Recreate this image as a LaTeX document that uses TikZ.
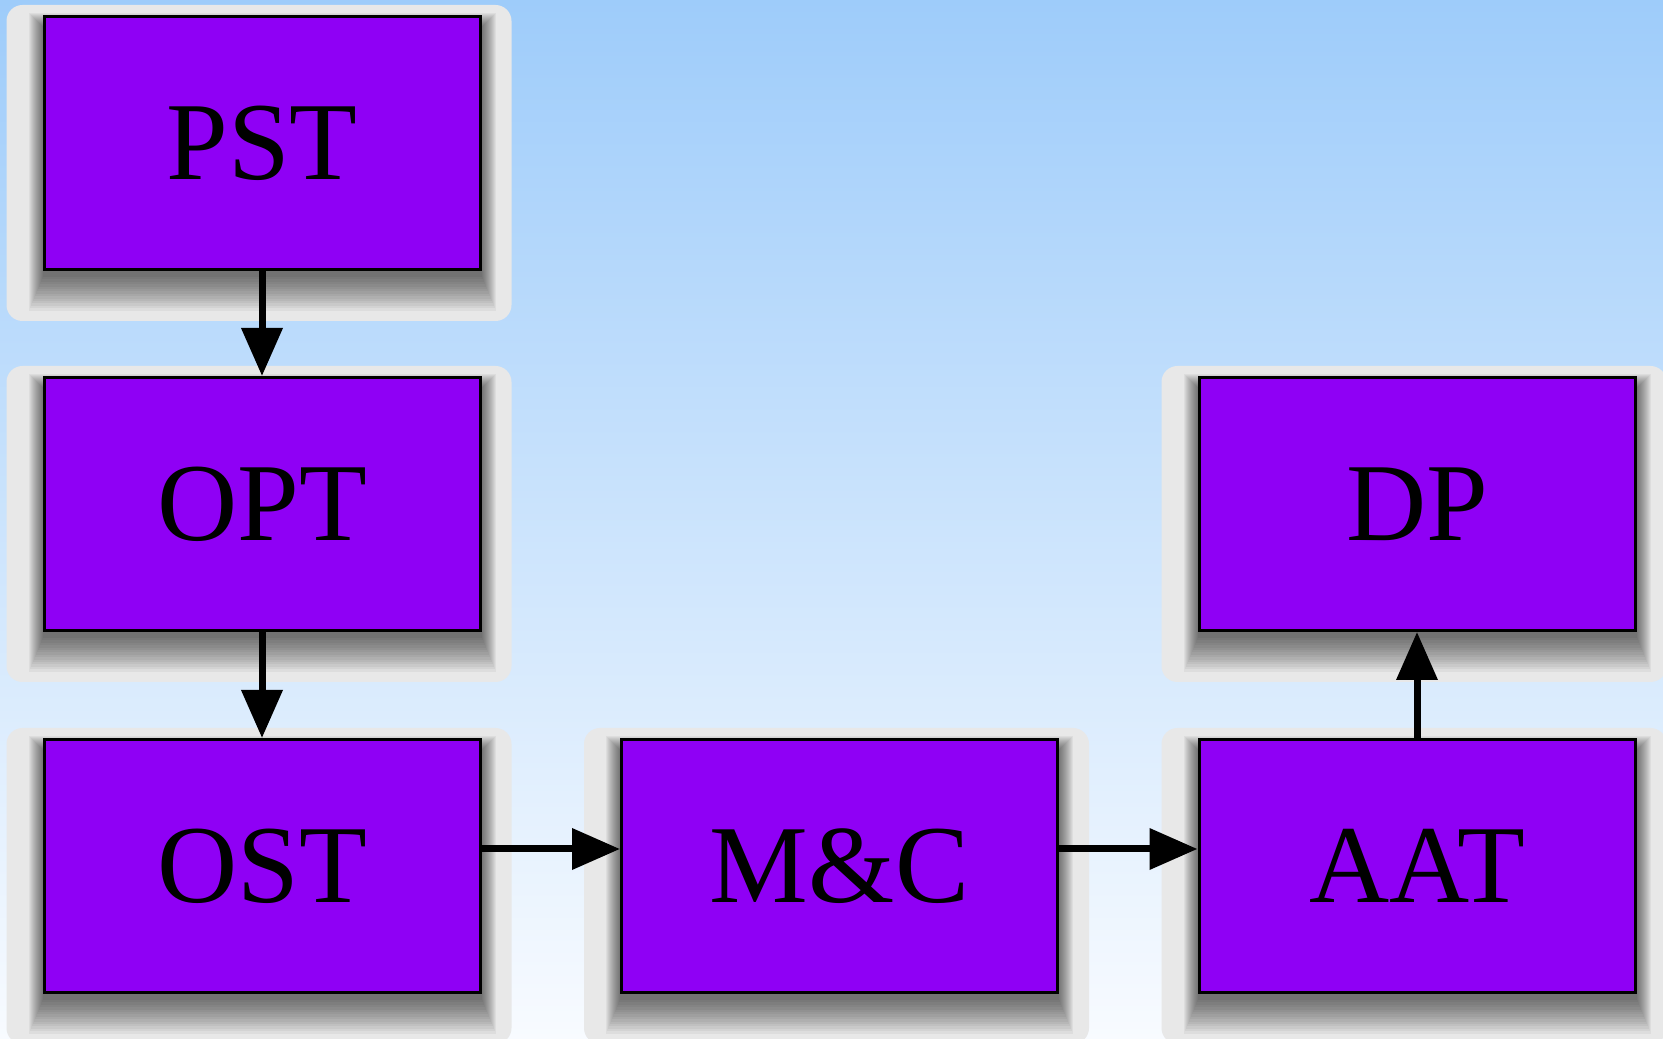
\documentclass[tikz,border=0pt]{standalone}
\usepackage{fontspec}
\setmainfont{Liberation Serif}
\usetikzlibrary{arrows.meta}
\definecolor{boxfill}{RGB}{143,0,245}
\definecolor{halogray}{RGB}{232,232,232}
\definecolor{skytop}{RGB}{158,204,250}
\definecolor{skybottom}{RGB}{248,251,255}
\pgfdeclarelayer{backdrop}
\pgfdeclarelayer{shadowlayer}
\pgfsetlayers{backdrop,shadowlayer,main}

% light halo plus soft drop shadow behind a stage box
\newcommand\stageshadow[1]{%
  \fill[halogray, rounded corners=16pt]
    ([xshift=-36pt,yshift=10pt]#1.north west) rectangle ([xshift=30pt,yshift=-50pt]#1.south east);
  \foreach \r in {0,2,...,28}{%
    \fill[black,opacity=0.045]
      ([xshift={-0.5*\r pt},yshift={-12pt+0.5*\r pt}]#1.north west) rectangle ([xshift={0.5*\r pt},yshift={-6pt-1.2*\r pt}]#1.south east);}%
}

\begin{document}
\begin{tikzpicture}[x=1pt,y=1pt,
  stage/.style={draw=black, line width=3pt, fill=boxfill,
    minimum width=436pt, minimum height=253pt, inner sep=0pt,
    font=\fontsize{111}{120}\selectfont},
  flow/.style={line width=7pt, -{Triangle[length=48pt,width=40pt]}}]

\useasboundingbox (0,0) rectangle (1663,1039);
\begin{pgfonlayer}{backdrop}
  \shade[top color=skytop, bottom color=skybottom] (0,0) rectangle (1663,1039);
\end{pgfonlayer}

\node[stage] (PST) at (262,896)   {PST};
\node[stage] (OPT) at (262,535)   {OPT};
\node[stage] (OST) at (262,173)   {OST};
\node[stage] (MC)  at (839.5,173) {M\&C};
\node[stage] (AAT) at (1417,173)  {AAT};
\node[stage] (DP)  at (1417,535)  {DP};

\begin{pgfonlayer}{shadowlayer}
  \stageshadow{PST}
  \stageshadow{OPT}
  \stageshadow{OST}
  \stageshadow{MC}
  \stageshadow{AAT}
  \stageshadow{DP}
\end{pgfonlayer}

\draw[flow] (PST.south) -- (OPT.north);
\draw[flow] (OPT.south) -- (OST.north);
\draw[flow] ([yshift=17pt]OST.east) -- ([yshift=17pt]MC.west);
\draw[flow] ([yshift=17pt]MC.east) -- ([yshift=17pt]AAT.west);
\draw[flow] (AAT.north) -- (DP.south);
\end{tikzpicture}
\end{document}
